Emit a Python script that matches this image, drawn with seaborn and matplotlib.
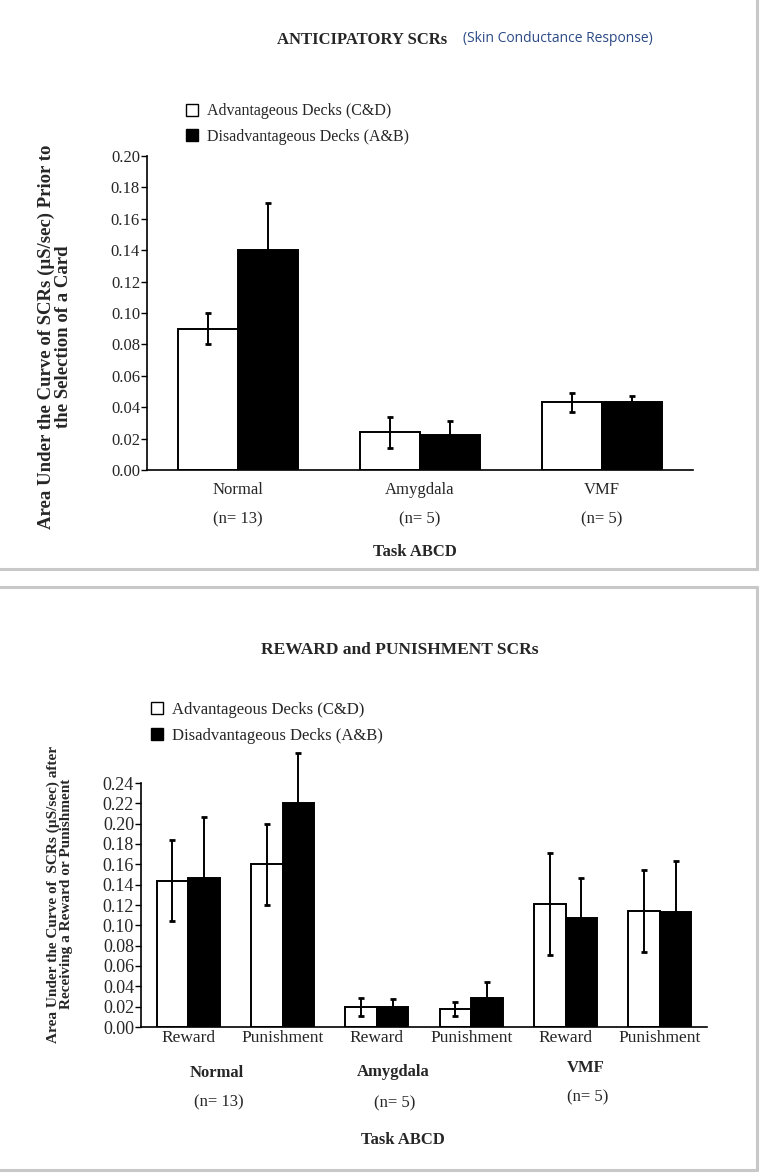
import pandas as pd
import matplotlib.pyplot as plt
import seaborn as sns
from matplotlib.lines import Line2D
from matplotlib.transforms import blended_transform_factory

# --- data ---
decks = ['Advantageous Decks (C&D)', 'Disadvantageous Decks (A&B)']

# top panel: anticipatory SCRs
groups = ['Normal', 'Amygdala', 'VMF']
group_n = ['(n= 13)', '(n= 5)', '(n= 5)']
antic_adv = [0.090, 0.024, 0.043]
antic_adv_err = [0.010, 0.010, 0.006]
antic_dis = [0.140, 0.022, 0.043]
antic_dis_err = [0.030, 0.009, 0.004]

# bottom panel: reward and punishment SCRs
conditions = ['Reward', 'Punishment'] * 3
cond_groups = ['Normal', 'Normal', 'Amygdala', 'Amygdala', 'VMF', 'VMF']
rp_adv = [0.144, 0.160, 0.020, 0.018, 0.121, 0.114]
rp_adv_err = [0.040, 0.040, 0.009, 0.007, 0.050, 0.040]
rp_dis = [0.147, 0.220, 0.020, 0.029, 0.107, 0.113]
rp_dis_err = [0.060, 0.050, 0.008, 0.015, 0.040, 0.050]

W, H = 764, 1176


def fx(px):
    return px / W


def fy(py):
    return 1 - py / H


sns.set_style('white')
plt.rcParams['font.family'] = ['Liberation Serif', 'DejaVu Serif']

fig = plt.figure(figsize=(W / 100, H / 100), dpi=100)


def draw_bars(ax, keys, adv, adv_err, dis, dis_err, width, ysize):
    df = pd.DataFrame({
        'key': keys * 2,
        'value': adv + dis,
        'deck': [decks[0]] * len(keys) + [decks[1]] * len(keys),
    })
    sns.barplot(data=df, x='key', y='value', hue='deck', order=keys,
                hue_order=decks, palette=['white', 'black'], saturation=1,
                edgecolor='black', linewidth=1.4, width=width, gap=0,
                errorbar=None, legend=False, ax=ax)
    for cont, errs in zip(ax.containers, [adv_err, dis_err]):
        xs = [b.get_x() + b.get_width() / 2 for b in cont]
        ys = [b.get_height() for b in cont]
        eb = ax.errorbar(xs, ys, yerr=errs, fmt='none', ecolor='black',
                         elinewidth=1.4, capsize=2.5, capthick=2, zorder=5)
        for art in eb.lines[1] + eb.lines[2]:
            art.set_clip_on(False)
    sns.despine(ax=ax)
    for s in ['left', 'bottom']:
        ax.spines[s].set_color('black')
        ax.spines[s].set_linewidth(1.2)
    ax.set_xlabel('')
    ax.set_ylabel('')
    ax.tick_params(axis='y', direction='out', length=4, width=1, color='black',
                   labelsize=ysize, pad=1, left=True)
    ax.tick_params(axis='x', length=0, labelsize=12)


def legend_at(x, y, size):
    handles = [Line2D([], [], marker='s', linestyle='none', markersize=8,
                      markerfacecolor=c, markeredgecolor='black', markeredgewidth=1)
               for c in ['white', 'black']]
    fig.legend(handles, decks, loc='center left', bbox_to_anchor=(fx(x), fy(y)),
               frameon=False, fontsize=size, handlelength=0.8,
               handletextpad=0.5, labelspacing=0.6, borderpad=0,
               borderaxespad=0)


# ---------------- top panel ----------------
ax1 = fig.add_axes([fx(147), fy(470), fx(693) - fx(147), fy(156) - fy(470)])
draw_bars(ax1, groups, antic_adv, antic_adv_err, antic_dis, antic_dis_err, 0.66, 12)
ax1.set_xlim(-0.5, 2.5)
ax1.set_ylim(0, 0.20)
ax1.set_yticks([i / 100 for i in range(0, 21, 2)])
ax1.set_yticklabels([f'{i / 100:.2f}' for i in range(0, 21, 2)])
ax1.tick_params(axis='x', pad=9)
tr = blended_transform_factory(ax1.transData, fig.transFigure)
for i, n in enumerate(group_n):
    ax1.text(i, fy(519), n, transform=tr, ha='center', va='center', fontsize=12)

fig.text(fx(362), fy(40), 'ANTICIPATORY SCRs', ha='center', va='center',
         fontsize=12, fontweight='bold')
fig.text(fx(463), fy(39), '(Skin Conductance Response)', ha='left', va='center',
         fontsize=10, color='#2b4a86', family=['Open Sans', 'DejaVu Sans'])
legend_at(186, 124, 11.5)
fig.text(fx(415), fy(552), 'Task ABCD', ha='center', va='center',
         fontsize=12, fontweight='bold')
fig.text(fx(55), fy(337),
         'Area Under the Curve of SCRs (\u00b5S/sec) Prior to\nthe Selection of a Card',
         rotation=90, ha='center', va='center', ma='center',
         fontsize=13.5, fontweight='bold', linespacing=1.0)

# ---------------- bottom panel ----------------
keys = [f'{g} {c}' for g, c in zip(cond_groups, conditions)]
ax2 = fig.add_axes([fx(141), fy(1027), fx(707) - fx(141), fy(783) - fy(1027)])
draw_bars(ax2, keys, rp_adv, rp_adv_err, rp_dis, rp_dis_err, 0.67, 13)
ax2.set_xlim(-0.5, 5.5)
ax2.set_ylim(0, 0.24)
ax2.set_yticks([i / 100 for i in range(0, 25, 2)])
ax2.set_yticklabels([f'{i / 100:.2f}' for i in range(0, 25, 2)])
ax2.set_xticks(range(len(conditions)))
ax2.set_xticklabels(conditions)
ax2.tick_params(axis='x', pad=2, labelsize=12.5)

fig.text(fx(400), fy(650), 'REWARD and PUNISHMENT SCRs', ha='center', va='center',
         fontsize=12.5, fontweight='bold')
legend_at(150, 723, 12)
for name, (x, y, yn) in zip(groups, [(217, 1073, 1102), (393, 1072, 1103),
                                     (586, 1068, 1097)]):
    fig.text(fx(x), fy(y), name, ha='center', va='center', fontsize=12,
             fontweight='bold')
    fig.text(fx(x + 2), fy(yn), group_n[groups.index(name)], ha='center',
             va='center', fontsize=12)
fig.text(fx(403), fy(1140), 'Task ABCD', ha='center', va='center',
         fontsize=12, fontweight='bold')
fig.text(fx(60), fy(894),
         'Area Under the Curve of  SCRs (\u00b5S/sec) after\nReceiving a Reward or Punishment',
         rotation=90, ha='center', va='center', ma='center',
         fontsize=11, fontweight='bold', linespacing=1.0)

# ---------------- grey panel frames ----------------
grey = dict(color='#c8c8c8', linewidth=2.2, transform=fig.transFigure)
fig.add_artist(Line2D([0, fx(757)], [fy(569), fy(569)], **grey))
fig.add_artist(Line2D([fx(757), fx(757)], [1, fy(569)], **grey))
fig.add_artist(Line2D([0, fx(757)], [fy(587), fy(587)], **grey))
fig.add_artist(Line2D([fx(757), fx(757)], [fy(587), fy(1170)], **grey))
fig.add_artist(Line2D([0, fx(757)], [fy(1170), fy(1170)], **grey))

fig.savefig('out.png', dpi=100, facecolor='white')
